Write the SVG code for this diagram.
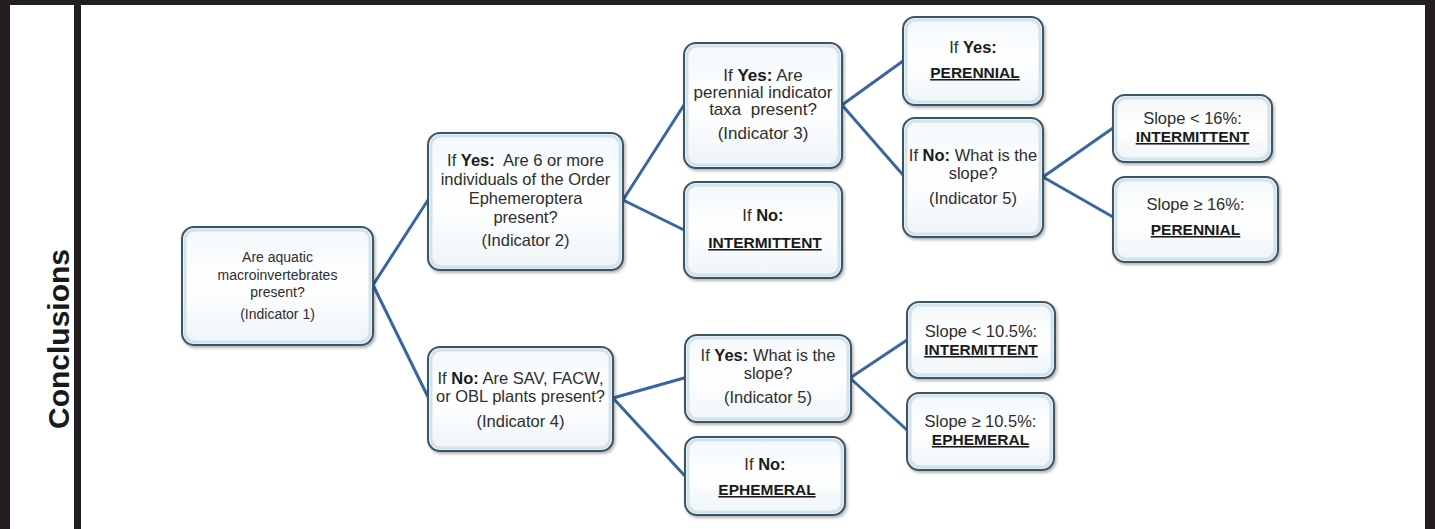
<svg xmlns="http://www.w3.org/2000/svg" width="1435" height="529" viewBox="0 0 1435 529">
<defs>
<linearGradient id="nodeFill" x1="0" y1="0" x2="0" y2="1">
<stop offset="0" stop-color="#f3f8fb"/>
<stop offset="0.5" stop-color="#ffffff"/>
<stop offset="1" stop-color="#eef4f8"/>
</linearGradient>
<filter id="shadow" x="-10%" y="-10%" width="125%" height="130%">
<feDropShadow dx="1.5" dy="2" stdDeviation="1.5" flood-color="#000" flood-opacity="0.3"/>
</filter>
<style>
.frame{fill:#231f20}
.box{fill:url(#nodeFill);stroke:#3e5464;stroke-width:2;filter:url(#shadow)}
.inner{fill:none;stroke:#d3e3ee;stroke-width:3}
.t{font-family:"Liberation Sans",Arial,sans-serif;fill:#2e2e2e;text-anchor:middle}
.b{font-weight:bold;fill:#1a1a1a}
.u{font-weight:bold;fill:#1a1a1a;text-decoration:underline}
.con{stroke:#3866a3;stroke-width:3;fill:none;stroke-linecap:round;stroke-linejoin:round}
.title{font-family:"Liberation Sans",Arial,sans-serif;font-weight:bold;font-size:30px;fill:#1a1a1a;text-anchor:middle}
</style>
</defs>
<rect width="1435" height="529" fill="#ffffff"/>
<g id="frame">
<rect class="frame" x="0" y="0" width="1435" height="5"/>
<rect class="frame" x="0" y="0" width="10" height="529"/>
<rect class="frame" x="74" y="0" width="7" height="529"/>
<rect class="frame" x="1425" y="0" width="10" height="529"/>
<text class="title" transform="translate(69,339) rotate(-90)">Conclusions</text>
</g>
<g id="connectors">
<polyline class="con" points="428,200 373,285 428,397"/>
<polyline class="con" points="684,105 623,200 684,230"/>
<polyline class="con" points="684,378 613,398 684,475"/>
<polyline class="con" points="903,61 842,105 903,175"/>
<polyline class="con" points="1113,128 1043,177 1113,217"/>
<polyline class="con" points="907,340 850,378 907,430"/>
</g>
<g id="n1">
<rect class="box" x="182" y="227" width="191" height="118" rx="12"/>
<rect class="inner" x="185" y="230" width="185" height="112" rx="10"/>
<text class="t" font-size="14"><tspan x="277.5" y="262">Are aquatic</tspan><tspan x="277.5" y="280">macroinvertebrates</tspan><tspan x="277.5" y="297">present?</tspan><tspan x="277.5" y="319">(Indicator 1)</tspan></text>
</g>
<g id="n2">
<rect class="box" x="428" y="133" width="195" height="137" rx="12"/>
<rect class="inner" x="431" y="136" width="189" height="131" rx="10"/>
<text class="t" font-size="16.5"><tspan x="525.5" y="166">If <tspan class="b">Yes:</tspan>&#160; Are 6 or more</tspan><tspan x="525.5" y="185">individuals of the Order</tspan><tspan x="525.5" y="204">Ephemeroptera</tspan><tspan x="525.5" y="223">present?</tspan><tspan x="525.5" y="246">(Indicator 2)</tspan></text>
</g>
<g id="n3">
<rect class="box" x="428" y="347" width="185" height="104" rx="12"/>
<rect class="inner" x="431" y="350" width="179" height="98" rx="10"/>
<text class="t" font-size="16.5"><tspan x="520.5" y="384">If <tspan class="b">No:</tspan> Are SAV, FACW,</tspan><tspan x="520.5" y="402">or OBL plants present?</tspan><tspan x="520.5" y="427">(Indicator 4)</tspan></text>
</g>
<g id="n4">
<rect class="box" x="684" y="43" width="158" height="125" rx="12"/>
<rect class="inner" x="687" y="46" width="152" height="119" rx="10"/>
<text class="t" font-size="17"><tspan x="763" y="81">If <tspan class="b">Yes:</tspan> Are</tspan><tspan x="763" y="98">perennial indicator</tspan><tspan x="763" y="115">taxa&#160; present?</tspan><tspan x="763" y="139">(Indicator 3)</tspan></text>
</g>
<g id="n5">
<rect class="box" x="684" y="182" width="158" height="96" rx="12"/>
<rect class="inner" x="687" y="185" width="152" height="90" rx="10"/>
<text class="t" font-size="16.5"><tspan x="763" y="221">If <tspan class="b">No:</tspan></tspan></text>
<text class="t u" font-size="15.5" x="765" y="248">INTERMITTENT</text>
</g>
<g id="n6">
<rect class="box" x="903" y="17" width="140" height="88" rx="12"/>
<rect class="inner" x="906" y="20" width="134" height="82" rx="10"/>
<text class="t" font-size="16.5"><tspan x="973" y="53">If <tspan class="b">Yes:</tspan></tspan></text>
<text class="t u" font-size="15.5" x="975" y="78">PERENNIAL</text>
</g>
<g id="n7">
<rect class="box" x="903" y="118" width="140" height="119" rx="12"/>
<rect class="inner" x="906" y="121" width="134" height="113" rx="10"/>
<text class="t" font-size="16.5"><tspan x="973" y="161">If <tspan class="b">No:</tspan> What is the</tspan><tspan x="973" y="179">slope?</tspan><tspan x="973" y="204">(Indicator 5)</tspan></text>
</g>
<g id="n8">
<rect class="box" x="1113" y="95" width="159" height="67" rx="12"/>
<rect class="inner" x="1116" y="98" width="153" height="61" rx="10"/>
<text class="t" font-size="16.5" x="1192.5" y="124">Slope &lt; 16%:</text>
<text class="t u" font-size="15.5" x="1192.5" y="142">INTERMITTENT</text>
</g>
<g id="n9">
<rect class="box" x="1113" y="177" width="165" height="85" rx="12"/>
<rect class="inner" x="1116" y="180" width="159" height="79" rx="10"/>
<text class="t" font-size="16.5" x="1195.5" y="210">Slope ≥ 16%:</text>
<text class="t u" font-size="15.5" x="1195.5" y="235">PERENNIAL</text>
</g>
<g id="n10">
<rect class="box" x="685" y="335" width="166" height="87" rx="12"/>
<rect class="inner" x="688" y="338" width="160" height="81" rx="10"/>
<text class="t" font-size="16.5"><tspan x="768" y="361">If <tspan class="b">Yes:</tspan> What is the</tspan><tspan x="768" y="379">slope?</tspan><tspan x="768" y="403">(Indicator 5)</tspan></text>
</g>
<g id="n11">
<rect class="box" x="685" y="437" width="160" height="78" rx="12"/>
<rect class="inner" x="688" y="440" width="154" height="72" rx="10"/>
<text class="t" font-size="16.5"><tspan x="765" y="470">If <tspan class="b">No:</tspan></tspan></text>
<text class="t u" font-size="15.5" x="767" y="495">EPHEMERAL</text>
</g>
<g id="n12">
<rect class="box" x="907" y="302" width="148" height="76" rx="12"/>
<rect class="inner" x="910" y="305" width="142" height="70" rx="10"/>
<text class="t" font-size="16.5" x="981" y="337">Slope &lt; 10.5%:</text>
<text class="t u" font-size="15.5" x="981" y="355">INTERMITTENT</text>
</g>
<g id="n13">
<rect class="box" x="907" y="393" width="147" height="77" rx="12"/>
<rect class="inner" x="910" y="396" width="141" height="71" rx="10"/>
<text class="t" font-size="16.5" x="980.5" y="427">Slope ≥ 10.5%:</text>
<text class="t u" font-size="15.5" x="980.5" y="445">EPHEMERAL</text>
</g>
</svg>
